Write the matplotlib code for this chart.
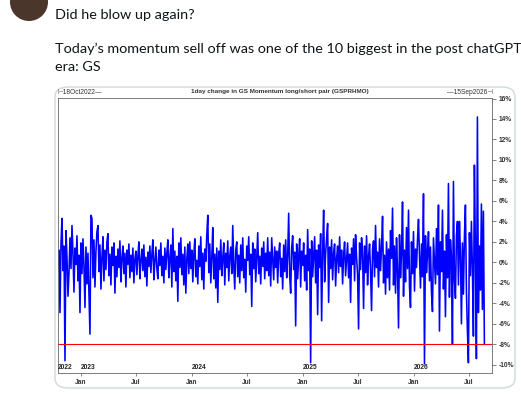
import numpy as np
import pandas as pd
import matplotlib
matplotlib.use('Agg')
import matplotlib.pyplot as plt
from matplotlib.patches import FancyBboxPatch, Ellipse

plt.rcParams['font.family'] = ['Liberation Sans', 'DejaVu Sans']

# 1day change in GS momentum long/short pair (in %)
vals = [
    -0.5, 1.2, -4.9, 1.8, 4.3, -0.8, 1.6, -9.6, 3.1, 0.4,
    -3.3, -1.0, 2.4, -0.6, 3.6, 0.9, -2.9, 1.4, -0.2, 2.6,
    -1.8, 0.7, -4.9, 1.9, -1.1, 2.3, -0.4, -4.4, 1.5, -2.1,
    0.9, -3.2, -7.0, 4.6, 4.3, -1.5, 2.2, -2.4, 1.1, 3.0,
    3.6, -0.9, 1.7, -2.6, 0.5, 2.5, -1.8, 1.2, -0.7, 2.0,
    2.8, -1.3, 0.8, -2.2, 1.5, -0.3, 1.9, -3.0, 0.6, -1.4,
    1.3, -0.5, 2.1, -1.9, 0.4, 1.6, -1.1, 0.9, -2.4, 1.2,
    -0.2, 1.8, -1.5, 0.7, -0.9, 1.4, -2.0, 0.3, 1.1, -1.2,
    0.6, 2.0, -1.6, 0.2, 1.3, -0.8, 1.7, -1.4, 0.5, -2.3,
    1.0, -0.4, 1.6, -1.0, 0.8, 2.2, -1.7, 0.1, 1.5, -0.6,
    -1.6, 1.2, -0.3, 1.9, -1.3, 0.6, -2.0, 1.4, -0.7, 0.9,
    2.2, -1.5, 0.4, 1.7, -2.4, 3.3, -0.9, 1.1, -1.8, 0.6,
    -3.8, 1.9, -0.5, 2.4, -1.2, 0.8, -2.2, 1.5, -3.0, 0.3,
    1.8, -1.1, 2.0, -0.6, 1.2, -1.9, 0.7, 2.3, -1.4, 0.2,
    -2.1, 1.6, -0.4, 2.5, -1.7, 0.9, -2.6, 1.3, 0.1, 2.7,
    4.6, -1.0, 1.8, -2.0, 0.5, 3.4, -1.6, 0.8, -2.5, 1.4,
    -3.9, 1.1, -0.7, 2.2, -1.3, 0.4, 1.9, -2.2, 0.9, -0.5,
    2.1, -1.8, 0.6, 1.5, -1.1, 3.6, -0.3, -2.6, 1.2, 2.0,
    -1.4, 0.7, -2.0, 1.7, -0.8, 2.4, -1.5, 0.3, -2.9, 1.6,
    0.2, 2.5, -1.2, 0.8, -4.3, 1.9, -0.6, 1.3, -1.9, 0.5,
    2.9, -1.1, 0.6, -2.1, 1.4, -0.4, 2.0, -1.6, 0.9, -0.8,
    2.4, -1.3, 1.0, -2.3, 2.4, 0.3, -1.7, 1.5, -0.5, 1.1,
    -2.0, 0.8, 1.9, -1.4, 0.4, -2.6, 1.7, -0.9, 2.2, -1.5,
    0.6, 4.8, -1.2, -3.0, 1.4, 2.6, -0.7, 1.0, -6.2, 1.8,
    -1.6, 0.5, 2.3, -2.4, 1.1, -0.3, 1.9, -1.8, 0.7, -2.7,
    3.2, -0.8, 1.3, -9.8, 2.1, -1.4, 0.6, 2.5, -2.0, 1.2,
    -5.1, 1.7, -0.5, 2.8, -5.7, 1.0, 5.1, -1.9, 0.8, 2.4,
    3.8, -3.9, 1.5, -0.6, 2.2, -1.7, 0.9, 1.8, -2.3, 0.4,
    1.6, -1.0, 2.5, -0.4, 1.2, -2.1, 0.7, 2.0, -1.3, 0.3,
    1.9, -1.5, 0.8, -3.9, 1.4, -0.2, 2.3, -1.8, 2.7, 0.5,
    -1.2, -6.5, 1.9, -0.7, 2.4, 0.9, -4.5, 1.6, -1.0, 2.6,
    -2.2, 0.6, 1.8, -0.9, -4.7, 1.3, 2.1, -1.4, 3.6, -0.5,
    1.0, -2.4, 2.3, -0.8, 1.5, 4.5, -2.0, 0.7, -3.1, 2.0,
    -1.5, 1.3, -2.7, 3.1, 0.4, 5.3, -2.2, 1.6, -3.0, 2.4,
    -0.8, -6.4, 2.7, -1.5, 0.9, 5.9, -3.3, 1.2, -1.9, 3.4,
    -0.6, 5.1, -2.4, -4.4, 2.0, -1.1, 3.0, -2.8, 1.3, -0.5,
    2.2, 4.2, 0.6, -2.5, 1.8, -1.4, 6.7, -9.9, 2.6, -1.0,
    0.8, 3.0, -1.8, 1.5, -2.9, -4.8, 2.4, 0.2, -2.1, 3.3,
    -1.2, 5.6, -6.7, 2.0, -0.9, 5.1, -2.6, 1.1, -5.3, 2.7,
    -1.5, 7.7, -3.4, 2.2, 0.5, -8.0, 7.9, -1.7, -3.5, 2.6,
    4.0, -2.2, 4.0, 0.8, -6.0, 1.9, -3.1, 2.5, 5.6, -2.8,
    -6.7, -9.8, 2.9, -1.3, 4.0, -0.6, -7.2, 9.5, 1.2, -9.4,
    14.2, -4.9, 1.6, -2.7, 5.7, -4.6, 5.0, -8.0,
]
first_day, last_day = '2022-10-18', '2026-08-21'
range_start, range_end = '2022-10-18', '2026-09-15'
threshold = -8

yticks = list(range(-10, 17, 2))
ytick_labels = [f'{t}%' for t in yticks]
month_ticks = pd.date_range('2023-01-01', '2026-07-01', freq='6MS')
month_labels = [d.strftime('%b') for d in month_ticks]
year_labels = ['2022', '2023', '2024', '2025', '2026']
year_pos = ['2022-10-18', '2023-01-01', '2024-01-01', '2025-01-01', '2026-01-01']

tweet_lines = ['Did he blow up again?',
               'Today\u2019s momentum sell off was one of the 10 biggest in the post chatGPT',
               'era: GS']
chart_title = '1day change in GS Momentum long/short pair (GSPRHMO)'

W, H = 521, 400


def fx(px):
    return px / W


def fy(py):
    return 1 - py / H


fig = plt.figure(figsize=(W / 100, H / 100), dpi=100)
fig.patch.set_facecolor('white')

# avatar (cut off at the top)
fig.add_artist(Ellipse((fx(29), fy(2)), 38 / W, 38 / H, transform=fig.transFigure,
                       fc='#4b362b', ec='none', zorder=-2))

# tweet text
tweet_y = [15, 49, 67]
for line, ty in zip(tweet_lines, tweet_y):
    fig.text(fx(55), fy(ty), line, fontsize=10.4, color='#0f1419', va='center', ha='left',
             family=['Lato', 'DejaVu Sans'])

# image card border
card = FancyBboxPatch((fx(55), fy(388)), fx(515) - fx(55), fy(87) - fy(388),
                      boxstyle='round,pad=0,rounding_size=0.025', transform=fig.transFigure,
                      fc='white', ec='#cfd9de', lw=1.0, zorder=-1)
fig.add_artist(card)

dates = pd.date_range(first_day, last_day, periods=len(vals))

ax = fig.add_axes([fx(58), fy(373), fx(492) - fx(58), fy(98) - fy(373)])
ax.set_zorder(1)
ax.patch.set_alpha(0)
ax.plot(dates, vals, color='#0000ff', lw=1.15)
ax.axhline(threshold, color='#ff0000', lw=0.8)
ax.set_ylim(-10.8, 16.05)
ax.set_xlim(pd.Timestamp(range_start), pd.Timestamp(range_end))

ax.yaxis.tick_right()
ax.set_yticks(yticks)
ax.set_yticklabels(ytick_labels, fontsize=4.8, fontweight='bold', color='#333333')
ax.tick_params(axis='y', length=3, width=0.5, pad=2, color='#555555')
ax.set_xticks(month_ticks)
ax.set_xticklabels(month_labels, fontsize=4.8, fontweight='bold', color='#333333')
ax.tick_params(axis='x', length=2, width=0.5, pad=2.5, color='#555555')
for s in ax.spines.values():
    s.set_color('#666666')
    s.set_linewidth(0.6)

for lbl, pos in zip(year_labels, year_pos):
    ax.text(pd.Timestamp(pos), -10.25, lbl, ha='left', va='center', fontsize=4.8,
            fontweight='bold', color='#222222')

fig.text(fx(57), fy(92), '\u22a218Oct2022\u2014', fontsize=4.8, ha='left', va='center',
         color='#333333')
fig.text(fx(493), fy(92), '\u201415Sep2026\u22a3', fontsize=4.8, ha='right', va='center',
         color='#333333')
fig.text(fx(280), fy(91), chart_title, fontsize=4.6, fontweight='bold', ha='center',
         va='center', color='#333333')

fig.savefig('out.png', dpi=100)
